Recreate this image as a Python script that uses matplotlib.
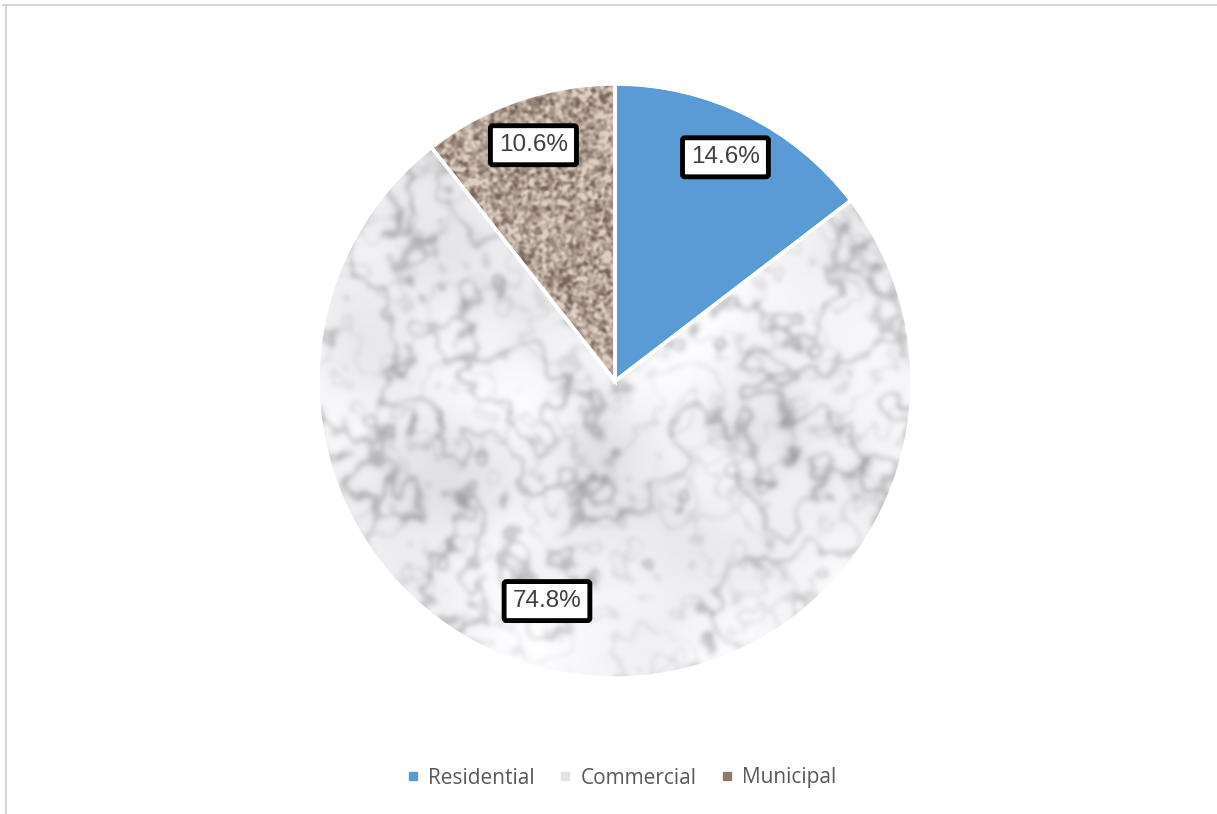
import numpy as np
import matplotlib.pyplot as plt
from matplotlib.lines import Line2D

# share of each sector
sectors = ['Residential', 'Commercial', 'Municipal']
shares = [14.6, 74.8, 10.6]

blue = '#5b9bd5'
marble_base = '#e8e8ea'
granite_base = '#a89a8f'
legend_colors = [blue, '#e3e3e3', '#8a7b70']


def lowpass(a, sigma):
    n = a.shape[0]
    f = np.fft.fftfreq(n)
    fx, fy = np.meshgrid(f, f)
    g = np.exp(-2 * (np.pi * sigma) ** 2 * (fx ** 2 + fy ** 2))
    return np.real(np.fft.ifft2(np.fft.fft2(a) * g))


def smooth_noise(rng, n, sigma):
    out = lowpass(rng.standard_normal((n, n)), sigma)
    return (out - out.mean()) / out.std()


def marble(n=600):
    rng = np.random.default_rng(7)
    turb = (smooth_noise(rng, n, 50) + 0.6 * smooth_noise(rng, n, 16)
            + 0.3 * smooth_noise(rng, n, 5))
    v1 = np.exp(-np.sin(turb * 1.4) ** 2 / 0.05)
    turb2 = smooth_noise(rng, n, 18) + 0.5 * smooth_noise(rng, n, 5)
    v2 = np.exp(-np.sin(turb2 * 1.2) ** 2 / 0.04)
    # grey clouds that the veins run through
    cloud = np.clip(smooth_noise(rng, n, 22), 0, None)
    dark = lowpass(0.20 * v1 + 0.10 * v2, 2.5) + 0.06 * cloud * lowpass(v1 + v2, 8)
    v = 0.95 - dark + 0.02 * smooth_noise(rng, n, 35)
    v = np.clip(v, 0, 1)
    img = np.dstack([v, v, np.clip(v * 1.012, 0, 1)])
    return img


def granite(n=600):
    rng = np.random.default_rng(11)
    s = smooth_noise(rng, n, 1.5) + 0.3 * smooth_noise(rng, n, 5)
    t = np.clip((s + 2.3) / 4.0, 0, 1)
    dark = np.array([0.48, 0.40, 0.36])
    light = np.array([0.87, 0.81, 0.76])
    return dark + t[..., None] * (light - dark)


fig = plt.figure(figsize=(12.17, 8.14), dpi=100)
fig.patch.set_facecolor('white')

# outer chart frame (top and left edges)
fig.add_artist(Line2D([3 / 1217, 1], [1 - 5 / 814] * 2, color='#d6d6d6', lw=1.5))
fig.add_artist(Line2D([6 / 1217] * 2, [0, 1 - 5 / 814], color='#d6d6d6', lw=1.5))

cx, cy, r = 615, 381, 297
half = 300
ax = fig.add_axes([(cx - half) / 1217, (814 - cy - half) / 814, 2 * half / 1217, 2 * half / 814])
lim = half / r

wedges, texts, autotexts = ax.pie(
    shares, colors=[blue, marble_base, granite_base], startangle=90, counterclock=False,
    autopct='%1.1f%%', pctdistance=0.84,
    wedgeprops=dict(edgecolor='white', linewidth=2),
    textprops=dict(fontsize=17.5, color='#404040', family='Liberation Sans'))

for w, img in [(wedges[1], marble()), (wedges[2], granite())]:
    im = ax.imshow(img, extent=[-1, 1, -1, 1], zorder=2, interpolation='bilinear')
    im.set_clip_path(w)

# white separators on top of the textures
edges, _ = ax.pie(shares, startangle=90, counterclock=False,
                  wedgeprops=dict(facecolor='none', edgecolor='white', linewidth=2.5))
for e in edges:
    e.set_zorder(3)
ax.set_xlim(-lim, lim)
ax.set_ylim(-lim, lim)
ax.axis('off')

for t in autotexts:
    t.set_zorder(5)
    t.set_bbox(dict(boxstyle='round,pad=0.35,rounding_size=0.1', fc='white', ec='black', lw=3.5))
autotexts[1].set_position((-0.229, -0.741))

handles = [Line2D([], [], marker='s', ls='none', color=c, markersize=6) for c in legend_colors]
fig.legend(handles, sectors, loc='center', bbox_to_anchor=(0.5107, 1 - 778 / 814), ncol=3,
           frameon=False, handlelength=0.6, handletextpad=0.45, columnspacing=1.15,
           prop=dict(family='Open Sans', size=15), labelcolor='#595959')

fig.savefig('out.png', dpi=100)
